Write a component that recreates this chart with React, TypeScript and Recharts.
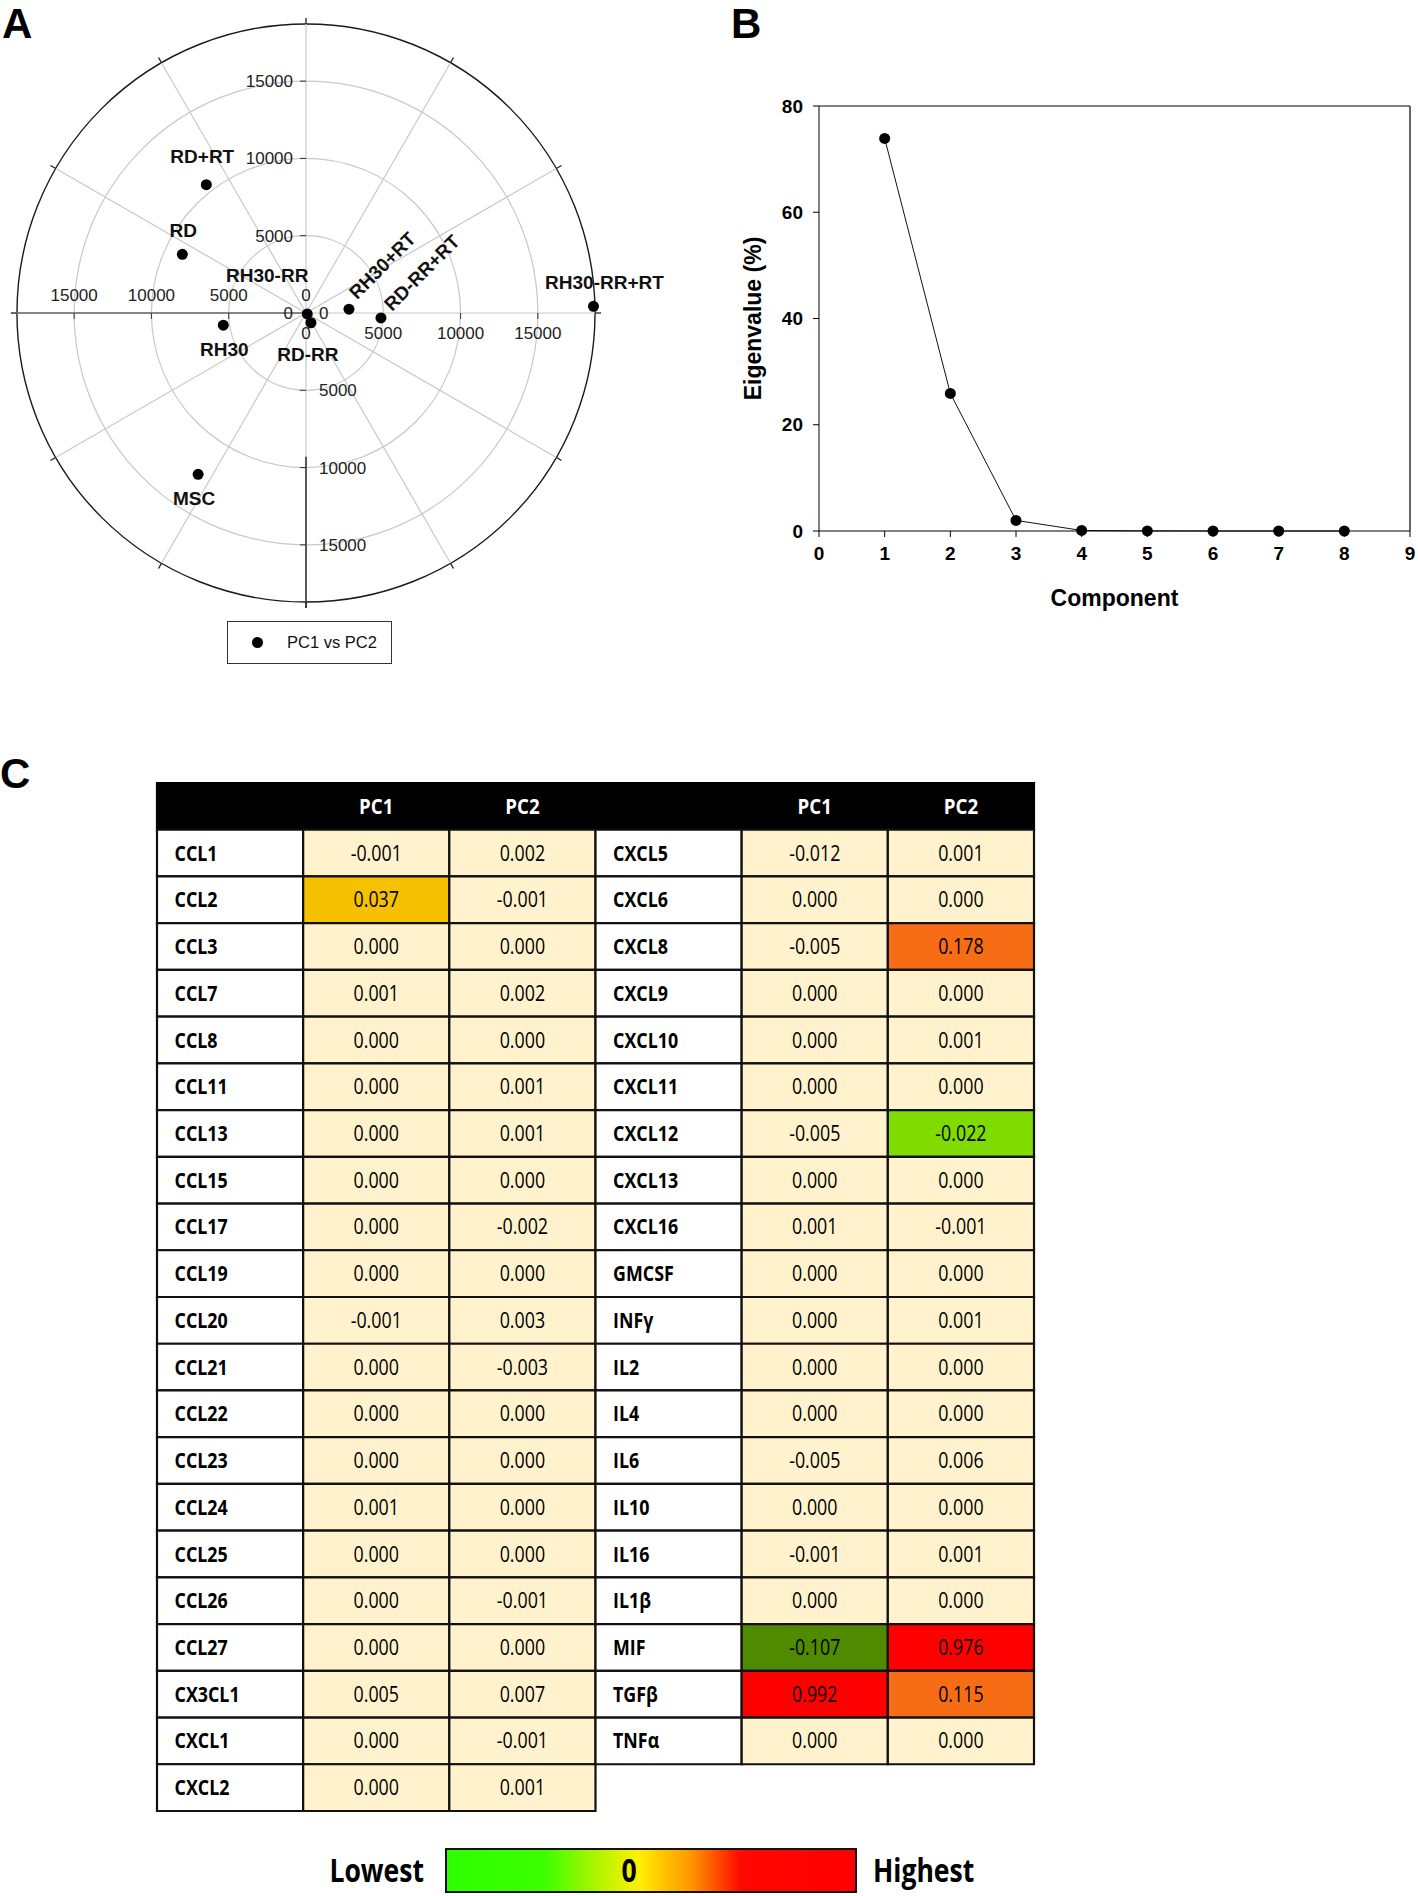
import React from 'react'
import {
  ScatterChart,
  Scatter,
  LineChart,
  Line,
  XAxis,
  YAxis,
  ReferenceArea,
  ReferenceLine,
  ReferenceDot,
  Label,
} from 'recharts'

// ---- panel A: PC1 vs PC2 scores
const sampleNames = ['RD+RT', 'RD', 'RH30-RR', 'RH30', 'RD-RR', 'MSC', 'RH30+RT', 'RD-RR+RT', 'RH30-RR+RT']
const pc1Scores = [-6450, -8000, 80, -5350, 320, -6980, 2780, 4850, 18600]
const pc2Scores = [8300, 3800, -60, -790, -630, -10440, 250, -320, 430]
const polarTicks = [5000, 10000, 15000]
const polarLabels = ['0', '5000', '10000', '15000']
const polarMax = 18700
const polarAngles = [0, 30, 60, 90, 120, 150, 180, 210, 240, 270, 300, 330]

// ---- panel B: scree plot
const components = [1, 2, 3, 4, 5, 6, 7, 8]
const eigenvalues = [73.9, 25.9, 2.0, 0.1, 0.02, 0, 0, 0]
const componentTicks = [0, 1, 2, 3, 4, 5, 6, 7, 8, 9]
const eigenTicks = [0, 20, 40, 60, 80]

// ---- panel C: loadings
const headerLabels = ['', 'PC1', 'PC2', '', 'PC1', 'PC2']
const leftCytokines = ['CCL1', 'CCL2', 'CCL3', 'CCL7', 'CCL8', 'CCL11', 'CCL13', 'CCL15', 'CCL17', 'CCL19', 'CCL20', 'CCL21', 'CCL22', 'CCL23', 'CCL24', 'CCL25', 'CCL26', 'CCL27', 'CX3CL1', 'CXCL1', 'CXCL2']
const leftPC1 = [-0.001, 0.037, 0, 0.001, 0, 0, 0, 0, 0, 0, -0.001, 0, 0, 0, 0.001, 0, 0, 0, 0.005, 0, 0]
const leftPC2 = [0.002, -0.001, 0, 0.002, 0, 0.001, 0.001, 0, -0.002, 0, 0.003, -0.003, 0, 0, 0, 0, -0.001, 0, 0.007, -0.001, 0.001]
const rightCytokines = ['CXCL5', 'CXCL6', 'CXCL8', 'CXCL9', 'CXCL10', 'CXCL11', 'CXCL12', 'CXCL13', 'CXCL16', 'GMCSF', 'INFγ', 'IL2', 'IL4', 'IL6', 'IL10', 'IL16', 'IL1β', 'MIF', 'TGFβ', 'TNFα']
const rightPC1 = [-0.012, 0, -0.005, 0, 0, 0, -0.005, 0, 0.001, 0, 0, 0, 0, -0.005, 0, -0.001, 0, -0.107, 0.992, 0]
const rightPC2 = [0.001, 0, 0.178, 0, 0.001, 0, -0.022, 0, -0.001, 0, 0.001, 0, 0, 0.006, 0, 0.001, 0, 0.976, 0.115, 0]

const ARIAL = 'Liberation Sans, Arial, sans-serif'
const TABLE_FONT = '"Open Sans", "Noto Sans", sans-serif'
const SQUEEZE = 0.85

const AX = 19500
const TICK = 390

// where each sample name sits relative to its dot
const labelPlacement: Record<string, { dx: number; dy: number; rotate?: boolean }> = {
  'RD+RT': { dx: -4, dy: -28 },
  RD: { dx: 1, dy: -24 },
  'RH30-RR': { dx: -40, dy: -39 },
  RH30: { dx: 1, dy: 24 },
  'RD-RR': { dx: -3, dy: 32 },
  MSC: { dx: -4, dy: 24 },
  'RH30+RT': { dx: 8, dy: -9, rotate: true },
  'RD-RR+RT': { dx: 11, dy: -6, rotate: true },
  'RH30-RR+RT': { dx: 11, dy: -24 },
}

const rad = (d: number) => (d * Math.PI) / 180

const ring = (stroke: string, width: number) => (p: any) => (
  <ellipse
    cx={p.x + p.width / 2}
    cy={p.y + p.height / 2}
    rx={Math.abs(p.width) / 2}
    ry={Math.abs(p.height) / 2}
    fill="none"
    stroke={stroke}
    strokeWidth={width}
  />
)

function renderSample(props: any) {
  const { cx, cy, payload } = props
  const pl = labelPlacement[payload.name]
  const tx = cx + pl.dx
  const ty = cy + pl.dy
  return (
    <g>
      <circle cx={cx} cy={cy} r={5.5} fill="#000" />
      {pl.rotate ? (
        <text x={tx} y={ty} transform={`rotate(-45 ${tx} ${ty})`} fontFamily={ARIAL} fontWeight={700} fontSize={19} fill="#111">
          {payload.name}
        </text>
      ) : (
        <text x={tx} y={ty} dy="0.35em" textAnchor="middle" fontFamily={ARIAL} fontWeight={700} fontSize={19} fill="#111">
          {payload.name}
        </text>
      )}
    </g>
  )
}

function PolarPanel() {
  const points = sampleNames.map((name, i) => ({ name, pc1: pc1Scores[i], pc2: pc2Scores[i] }))
  const tickText = { fill: '#222', fontSize: 17, fontFamily: ARIAL }
  const allTicks = [0, ...polarTicks]
  return (
    <ScatterChart width={700} height={640} margin={{ top: 11.6, right: 92.6, bottom: 25.6, left: 4.6 }}>
      <XAxis type="number" dataKey="pc1" domain={[-AX, AX]} hide />
      <YAxis type="number" dataKey="pc2" domain={[-AX, AX]} hide />
      {polarTicks.map((r) => (
        <ReferenceArea key={'ring' + r} x1={-r} x2={r} y1={-r} y2={r} ifOverflow="visible" shape={ring('#c8c8c8', 1.2)} />
      ))}
      {polarAngles.map((a) => (
        <ReferenceLine
          key={'spoke' + a}
          ifOverflow="visible"
          stroke="#c8c8c8"
          strokeWidth={1.2}
          segment={[{ x: 0, y: 0 }, { x: polarMax * Math.cos(rad(a)), y: polarMax * Math.sin(rad(a)) }]}
        />
      ))}
      {polarAngles.map((a) => (
        <ReferenceLine
          key={'aTick' + a}
          ifOverflow="visible"
          stroke="#222"
          strokeWidth={1.3}
          segment={[
            { x: polarMax * Math.cos(rad(a)), y: polarMax * Math.sin(rad(a)) },
            { x: (polarMax + TICK) * Math.cos(rad(a)), y: (polarMax + TICK) * Math.sin(rad(a)) },
          ]}
        />
      ))}
      <ReferenceArea x1={-polarMax} x2={polarMax} y1={-polarMax} y2={polarMax} ifOverflow="visible" shape={ring('#1a1a1a', 1.4)} />
      <ReferenceLine ifOverflow="visible" stroke="#666" strokeWidth={1.4} segment={[{ x: -polarMax - TICK, y: 0 }, { x: 0, y: 0 }]} />
      <ReferenceLine ifOverflow="visible" stroke="#222" strokeWidth={1.4} segment={[{ x: 0, y: -9300 }, { x: 0, y: -polarMax - TICK }]} />
      {polarTicks.map((v) => (
        <ReferenceLine key={'tu' + v} ifOverflow="visible" stroke="#333" segment={[{ x: -TICK, y: v }, { x: 0, y: v }]} />
      ))}
      {polarTicks.map((v) => (
        <ReferenceLine key={'td' + v} ifOverflow="visible" stroke="#333" segment={[{ x: -TICK, y: -v }, { x: 0, y: -v }]} />
      ))}
      {polarTicks.map((v) => (
        <ReferenceLine key={'tl' + v} ifOverflow="visible" stroke="#333" segment={[{ x: -v, y: 0 }, { x: -v, y: -TICK }]} />
      ))}
      {polarTicks.map((v) => (
        <ReferenceLine key={'tr' + v} ifOverflow="visible" stroke="#333" segment={[{ x: v, y: 0 }, { x: v, y: -TICK }]} />
      ))}
      {allTicks.map((v, i) => (
        <ReferenceDot key={'lu' + v} x={0} y={v} r={0} stroke="none" fill="none" label={{ value: polarLabels[i], position: 'left', offset: 13, ...tickText }} />
      ))}
      {allTicks.map((v, i) => (
        <ReferenceDot key={'ll' + v} x={-v} y={0} r={0} stroke="none" fill="none" label={{ value: polarLabels[i], position: 'top', offset: 12, ...tickText }} />
      ))}
      {allTicks.map((v, i) => (
        <ReferenceDot key={'lr' + v} x={v} y={0} r={0} stroke="none" fill="none" label={{ value: polarLabels[i], position: 'bottom', offset: 14, ...tickText }} />
      ))}
      {allTicks.map((v, i) => (
        <ReferenceDot key={'ld' + v} x={0} y={-v} r={0} stroke="none" fill="none" label={{ value: polarLabels[i], position: 'right', offset: 13, ...tickText }} />
      ))}
      <Scatter name="PC1 vs PC2" data={points} shape={renderSample} isAnimationActive={false} />
    </ScatterChart>
  )
}

function ScreePanel() {
  const scree = components.map((c, i) => ({ component: c, eigen: eigenvalues[i] }))
  const tick = { fontSize: 19, fontWeight: 700, fill: '#000', fontFamily: ARIAL }
  return (
    <LineChart width={718} height={640} data={scree} margin={{ top: 106, right: 8, bottom: 29, left: 39 }}>
      <XAxis
        type="number"
        dataKey="component"
        domain={[0, 9]}
        ticks={componentTicks}
        interval={0}
        height={80}
        stroke="#000"
        tickSize={6}
        tickMargin={10}
        tick={tick}
      >
        <Label value="Component" position="insideBottom" offset={5} fontSize={23} fontWeight={700} fill="#000" fontFamily={ARIAL} />
      </XAxis>
      <YAxis
        type="number"
        domain={[0, 80]}
        ticks={eigenTicks}
        interval={0}
        width={80}
        stroke="#000"
        tickSize={6}
        tickMargin={10}
        tick={tick}
      >
        <Label
          value="Eigenvalue (%)"
          angle={-90}
          position="insideLeft"
          offset={14}
          fontSize={23}
          fontWeight={700}
          fill="#000"
          fontFamily={ARIAL}
          style={{ textAnchor: 'middle' }}
        />
      </YAxis>
      <ReferenceLine y={80} stroke="#000" strokeWidth={1.2} />
      <ReferenceLine x={9} stroke="#000" strokeWidth={1.2} />
      <Line
        type="linear"
        dataKey="eigen"
        stroke="#111"
        strokeWidth={1}
        dot={{ r: 5.5, fill: '#000', stroke: '#000', strokeWidth: 0 }}
        isAnimationActive={false}
      />
    </LineChart>
  )
}

function heatColor(v: number) {
  if (v >= 0.5) return '#FF0000'
  if (v >= 0.1) return '#F76D16'
  if (v >= 0.02) return '#F5C100'
  if (v <= -0.05) return '#4F8A00'
  if (v <= -0.02) return '#7FDB00'
  return '#FFF2CC'
}

type Cell = { col: number; row: number; xc: number; yc: number; text: string; kind: 'header' | 'name' | 'value'; fill: string }

function buildCells(): Cell[] {
  const cells: Cell[] = []
  headerLabels.forEach((h, c) => cells.push({ col: c, row: 0, xc: c + 0.5, yc: 0.5, text: h, kind: 'header', fill: '#000' }))
  const addBlock = (names: string[], a: number[], b: number[], c0: number) => {
    names.forEach((g, i) => {
      const row = i + 1
      cells.push({ col: c0, row, xc: c0 + 0.12, yc: row + 0.5, text: g, kind: 'name', fill: '#fff' })
      cells.push({ col: c0 + 1, row, xc: c0 + 1.5, yc: row + 0.5, text: a[i].toFixed(3), kind: 'value', fill: heatColor(a[i]) })
      cells.push({ col: c0 + 2, row, xc: c0 + 2.5, yc: row + 0.5, text: b[i].toFixed(3), kind: 'value', fill: heatColor(b[i]) })
    })
  }
  addBlock(leftCytokines, leftPC1, leftPC2, 0)
  addBlock(rightCytokines, rightPC1, rightPC2, 3)
  return cells
}

function renderCellText(props: any) {
  const { cx, cy, payload } = props
  const c = payload as Cell
  return (
    <g transform={`translate(${cx} ${cy}) scale(${SQUEEZE} 1)`}>
      <text
        x={0}
        y={0}
        dy="0.36em"
        textAnchor={c.kind === 'name' ? 'start' : 'middle'}
        fontFamily={TABLE_FONT}
        fontSize={c.kind === 'header' ? 22 : 21}
        fontWeight={c.kind === 'value' ? 400 : 700}
        fill={c.kind === 'header' ? '#fff' : '#000'}
      >
        {c.text}
      </text>
    </g>
  )
}

function LoadingsTable() {
  const cells = buildCells()
  return (
    <ScatterChart width={892} height={1042} margin={{ top: 7, right: 8, bottom: 7, left: 7 }}>
      <XAxis type="number" dataKey="xc" domain={[0, 6]} hide />
      <YAxis type="number" dataKey="yc" domain={[0, 22]} reversed hide />
      {cells.map((c) => (
        <ReferenceArea
          key={`${c.col}-${c.row}`}
          x1={c.col}
          x2={c.col + 1}
          y1={c.row}
          y2={c.row + 1}
          fill={c.fill}
          fillOpacity={1}
          stroke={c.kind === 'header' ? '#000' : '#111'}
          strokeWidth={2.2}
          ifOverflow="visible"
        />
      ))}
      <Scatter data={cells} shape={renderCellText} isAnimationActive={false} />
    </ScatterChart>
  )
}

export default function App() {
  return (
    <div style={{ position: 'absolute', left: 0, top: 0, width: 1418, height: 1896, background: '#fff', fontFamily: ARIAL, overflow: 'hidden' }}>
      <div style={{ position: 'absolute', left: 0, top: 0 }}>
        <PolarPanel />
      </div>
      <div
        style={{
          position: 'absolute',
          left: 227,
          top: 621,
          width: 165,
          height: 43,
          boxSizing: 'border-box',
          border: '1.3px solid #333',
          display: 'flex',
          alignItems: 'center',
          fontSize: 16.5,
          color: '#111',
        }}
      >
        <span style={{ display: 'inline-block', width: 11, height: 11, borderRadius: '50%', background: '#000', marginLeft: 24, marginRight: 24 }} />
        PC1 vs PC2
      </div>
      <div style={{ position: 'absolute', left: 700, top: 0 }}>
        <ScreePanel />
      </div>
      <div style={{ position: 'absolute', left: 150, top: 776 }}>
        <LoadingsTable />
      </div>
      <svg width={1418} height={1896} style={{ position: 'absolute', left: 0, top: 0, pointerEvents: 'none' }}>
        <defs>
          <linearGradient id="heat" x1="0" x2="1" y1="0" y2="0">
            <stop offset="0" stopColor="#2EFF00" />
            <stop offset="0.24" stopColor="#3CFF00" />
            <stop offset="0.36" stopColor="#A8F500" />
            <stop offset="0.47" stopColor="#FFF000" />
            <stop offset="0.6" stopColor="#FF9400" />
            <stop offset="0.72" stopColor="#FF0800" />
            <stop offset="1" stopColor="#FF0000" />
          </linearGradient>
        </defs>
        <text x={2} y={38} fontFamily={ARIAL} fontWeight={700} fontSize={42} fill="#000">A</text>
        <text x={731} y={38} fontFamily={ARIAL} fontWeight={700} fontSize={42} fill="#000">B</text>
        <text x={0} y={788} fontFamily={ARIAL} fontWeight={700} fontSize={42} fill="#000">C</text>
        <rect x={446} y={1849} width={410} height={43} fill="url(#heat)" stroke="#111" strokeWidth={2} />
        <g transform={`translate(629 1870) scale(0.83 1)`}>
          <text x={0} y={0} dy="0.36em" textAnchor="middle" fontFamily={TABLE_FONT} fontWeight={700} fontSize={32} fill="#000">0</text>
        </g>
        <g transform={`translate(424 1870) scale(0.83 1)`}>
          <text x={0} y={0} dy="0.36em" textAnchor="end" fontFamily={TABLE_FONT} fontWeight={700} fontSize={32} fill="#000">Lowest</text>
        </g>
        <g transform={`translate(873 1870) scale(0.83 1)`}>
          <text x={0} y={0} dy="0.36em" textAnchor="start" fontFamily={TABLE_FONT} fontWeight={700} fontSize={32} fill="#000">Highest</text>
        </g>
      </svg>
    </div>
  )
}
